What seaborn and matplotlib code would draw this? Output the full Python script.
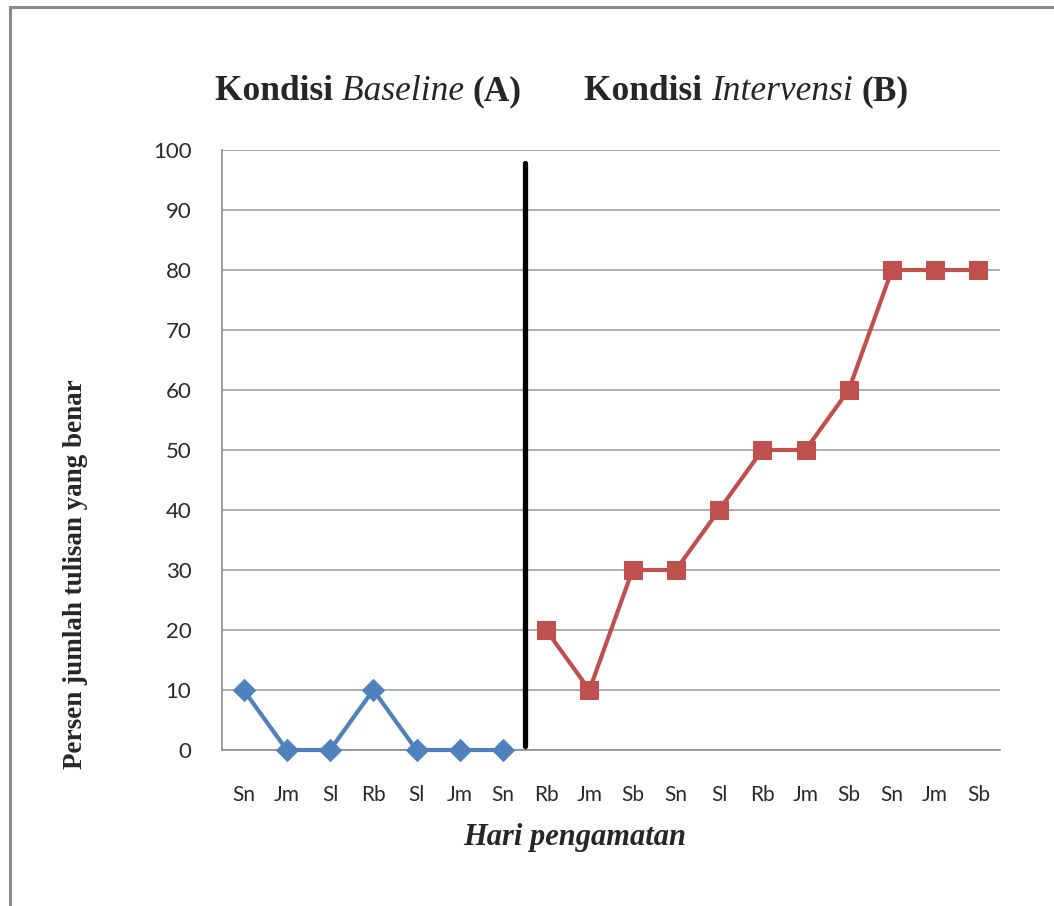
import numpy as np
import pandas as pd
import seaborn as sns
import matplotlib.pyplot as plt
from matplotlib.patches import Rectangle
from matplotlib.ticker import FixedLocator, NullFormatter

# data
hari = ["Sn", "Jm", "Sl", "Rb", "Sl", "Jm", "Sn", "Rb", "Jm", "Sb",
        "Sn", "Sl", "Rb", "Jm", "Sb", "Sn", "Jm", "Sb"]
baseline = [10, 0, 0, 10, 0, 0, 0]
intervensi = [20, 10, 30, 30, 40, 50, 50, 60, 80, 80, 80]

df_a = pd.DataFrame({"pos": range(len(baseline)), "nilai": baseline})
df_b = pd.DataFrame({"pos": range(len(baseline), len(hari)), "nilai": intervensi})

sns.set_style("white")
plt.rcParams["font.family"] = ["Lato", "DejaVu Sans"]

fig = plt.figure(figsize=(10.54, 9.06), dpi=100)
ax = fig.add_axes([222 / 1054, 156 / 906, 778 / 1054, 600 / 906])

biru = "#4F81BD"
merah = "#C0504D"
sns.lineplot(data=df_a, x="pos", y="nilai", ax=ax, color=biru, lw=3,
             marker="D", markersize=11, markeredgecolor=biru, clip_on=False, zorder=4)
sns.lineplot(data=df_b, x="pos", y="nilai", ax=ax, color=merah, lw=3,
             marker="s", markersize=13, markeredgecolor=merah, clip_on=False, zorder=4)

# garis pemisah fase
ax.axvline(len(baseline) - 0.5, ymin=0.007, ymax=0.978, color="black", lw=3.8, zorder=5)

ax.set_xlim(-0.5, len(hari) - 0.5)
ax.set_ylim(0, 100)
ax.set_yticks(range(0, 101, 10))
ax.set_xticks(range(len(hari)))
ax.set_xticklabels(hari)
ax.xaxis.set_minor_locator(FixedLocator(np.arange(-0.5, len(hari), 1)))
ax.xaxis.set_minor_formatter(NullFormatter())
ax.tick_params(axis="x", which="major", length=0, pad=25, labelsize=15, labelcolor="#2a2a2a")
ax.tick_params(axis="x", which="minor", length=8, width=1.2, color="#8c8c8c", direction="out")
ax.tick_params(axis="y", length=0, pad=22, labelsize=16, labelcolor="#2a2a2a")
ax.grid(axis="y", color="#a0a0a0", lw=1.2)
ax.set_axisbelow(True)
for s in ["top", "right"]:
    ax.spines[s].set_visible(False)
for s in ["left", "bottom"]:
    ax.spines[s].set_color("#8c8c8c")
    ax.spines[s].set_linewidth(1.2)
ax.set_xlabel("")
ax.set_ylabel("")

serif = ["Liberation Serif", "DejaVu Serif"]
fig.text(76 / 1054, 1 - 574 / 906, "Persen jumlah tulisan yang benar", rotation=90,
         ha="center", va="center", fontsize=19.5, fontweight="bold", family=serif)
fig.text(575 / 1054, 1 - 838 / 906, "Hari pengamatan", ha="center", va="center",
         fontsize=22, fontstyle="italic", fontweight="bold", family=serif)

# judul fase, disusun per potongan
fig.canvas.draw()
renderer = fig.canvas.get_renderer()


def tulis(x0, y0, bagian):
    x = x0
    for teks, gaya, tebal in bagian:
        t = fig.text(x, y0, teks, ha="left", va="baseline", fontsize=25.5,
                     fontstyle=gaya, fontweight=tebal, family=serif)
        bb = t.get_window_extent(renderer)
        x += bb.width / fig.bbox.width


yb = 1 - 100 / 906
tulis(215 / 1054, yb, [("Kondisi ", "normal", "bold"), ("Baseline ", "italic", "normal"),
                       ("(A)", "normal", "bold")])
tulis(584 / 1054, yb, [("Kondisi ", "normal", "bold"), ("Intervensi ", "italic", "normal"),
                       ("(B)", "normal", "bold")])

# bingkai luar
fig.patches.append(Rectangle((10 / 1054, -0.1), 1.2, 1 - 7 / 906 + 0.1, transform=fig.transFigure,
                             fill=False, edgecolor="#8a8a8a", lw=2.2))

fig.savefig("out.png", dpi=100)
